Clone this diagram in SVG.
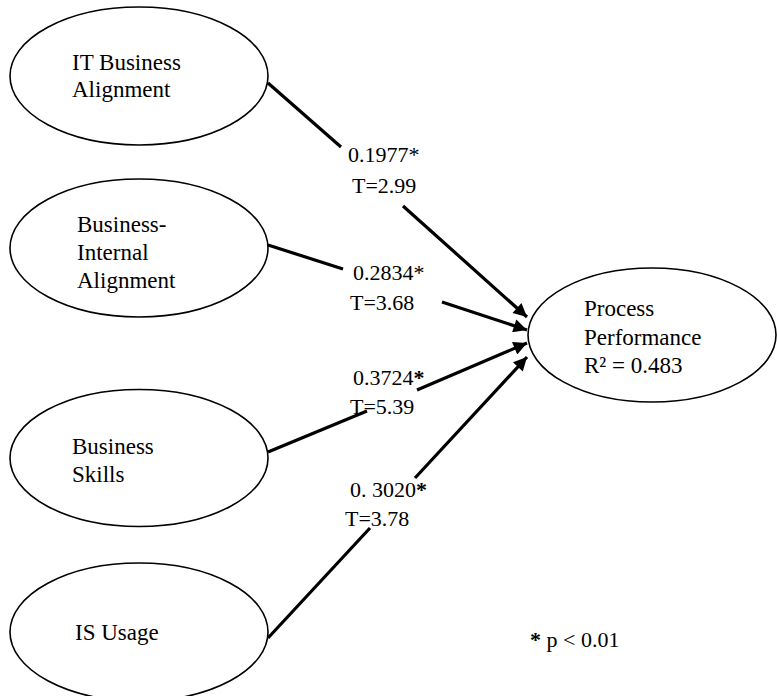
<svg xmlns="http://www.w3.org/2000/svg" width="777" height="696" viewBox="0 0 777 696">
<defs>
<style>
.node ellipse{fill:#fff;stroke:#000;stroke-width:1.6}
.nt{font-family:'Liberation Serif','DejaVu Serif',serif;font-size:23px;fill:#000}
.lt{font-family:'Liberation Serif','DejaVu Serif',serif;font-size:22px;fill:#000}
.b{font-weight:bold}
.conn path{fill:none;stroke:#000;stroke-width:3.2;marker-end:url(#ah)}
</style>
<marker id="ah" viewBox="0 0 10 10" refX="10" refY="5" markerWidth="5.5" markerHeight="4.2" orient="auto" markerUnits="strokeWidth">
<path d="M0,0 L10,5 L0,10 z" fill="#000"/>
</marker>
</defs>
<rect width="777" height="696" fill="#fff"/>
<g id="connectors" class="conn">
<path d="M268,83 L341,147 M403,206 L527,317"/>
<path d="M268,245 L343,269 M442,302 L527,330"/>
<path d="M268,452 L367,411 M417,390 L527,343"/>
<path d="M268,638 L370,528 M415,478 L527,357"/>
</g>
<g id="n-it" class="node">
<ellipse cx="139" cy="76" rx="129" ry="69"/>
<text class="nt" x="72" y="70">IT Business</text>
<text class="nt" x="72" y="97">Alignment</text>
</g>
<g id="n-bia" class="node">
<ellipse cx="139" cy="248" rx="129" ry="69"/>
<text class="nt" x="77" y="232">Business-</text>
<text class="nt" x="77" y="260">Internal</text>
<text class="nt" x="77" y="288">Alignment</text>
</g>
<g id="n-bs" class="node">
<ellipse cx="139" cy="458" rx="129" ry="68.5"/>
<text class="nt" x="72" y="454">Business</text>
<text class="nt" x="72" y="482">Skills</text>
</g>
<g id="n-isu" class="node">
<ellipse cx="139" cy="632" rx="129" ry="69"/>
<text class="nt" x="75" y="640">IS Usage</text>
</g>
<g id="n-pp" class="node">
<ellipse cx="652" cy="335" rx="124" ry="67"/>
<text class="nt" x="584" y="316">Process</text>
<text class="nt" x="584" y="345">Performance</text>
<text class="nt" x="584" y="373">R² = 0.483</text>
</g>
<g id="labels">
<text class="lt" x="348" y="162">0.1977*</text>
<text class="lt" x="352" y="193">T=2.99</text>
<text class="lt" x="353" y="280">0.2834*</text>
<text class="lt" x="350" y="310">T=3.68</text>
<text class="lt" x="353" y="385">0.3724<tspan class="b">*</tspan></text>
<text class="lt" x="350" y="414">T=5.39</text>
<text class="lt" x="350" y="497">0. 3020<tspan class="b">*</tspan></text>
<text class="lt" x="345" y="526">T=3.78</text>
<text class="lt" x="530" y="647"><tspan class="b">*</tspan> p &lt; 0.01</text>
</g>
</svg>
